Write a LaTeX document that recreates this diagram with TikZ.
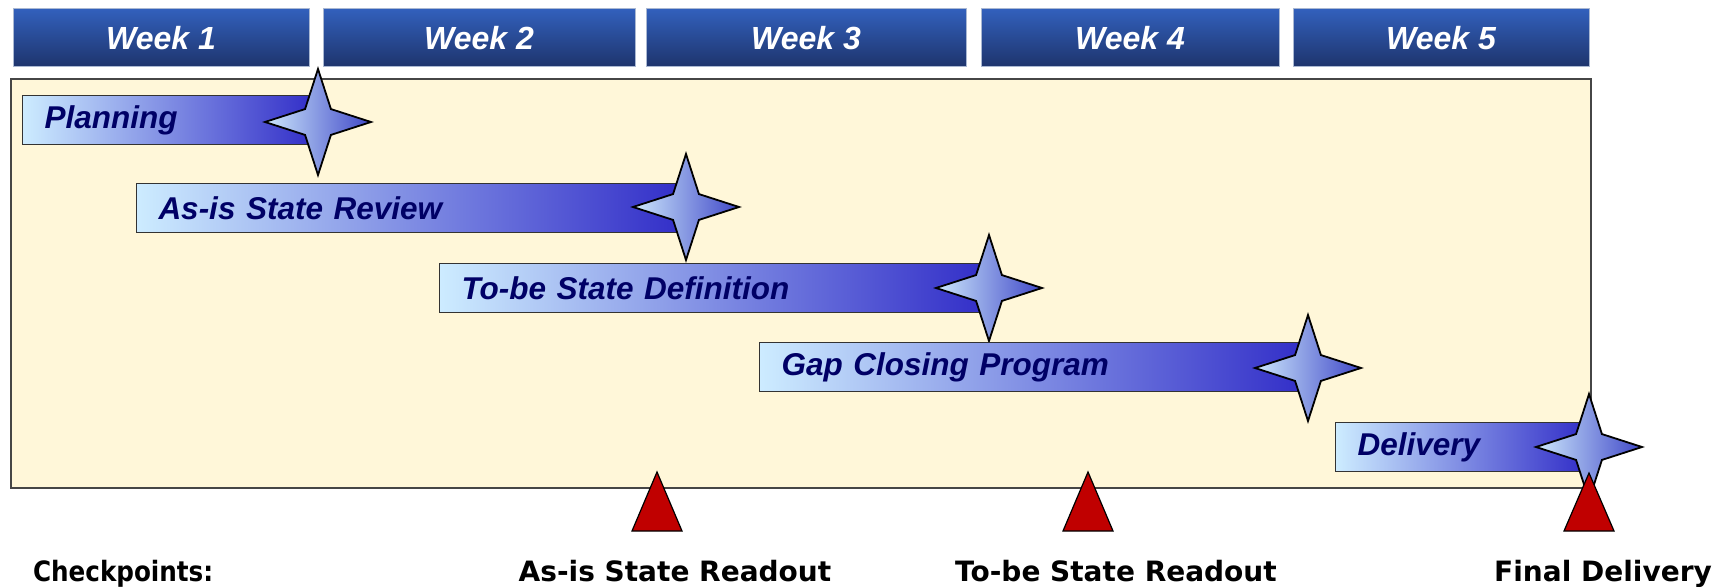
\documentclass[tikz,border=0pt]{standalone}
\usepackage{fontspec}
\setmainfont{Liberation Sans}
\newfontfamily\ckfont{DejaVu Sans}
\newfontfamily\cknarrow[FakeStretch=0.88]{DejaVu Sans}
\usetikzlibrary{shapes.geometric}

\definecolor{weektop}{RGB}{50,96,188}
\definecolor{weekbot}{RGB}{30,52,108}
\definecolor{weekedge}{RGB}{170,184,210}
\definecolor{panelfill}{RGB}{255,247,217}
\definecolor{paneledge}{RGB}{70,70,70}
\definecolor{barlight}{RGB}{205,236,255}
\definecolor{bardark}{RGB}{50,46,200}
\definecolor{barink}{RGB}{0,0,102}
\definecolor{starlight}{RGB}{205,232,252}
\definecolor{stardark}{RGB}{64,72,200}
\definecolor{flagred}{RGB}{192,0,0}

\tikzset{
  week/.style={draw=weekedge, line width=0.5pt, top color=weektop, bottom color=weekbot,
    minimum height=29pt, inner sep=0pt, text=white,
    font=\fontsize{16}{16}\selectfont\bfseries\itshape},
  task/.style={draw=black!80, line width=0.5pt, left color=barlight, right color=bardark,
    anchor=west, minimum height=24.5pt, inner xsep=11pt, inner ysep=0pt, align=left,
    text=barink, font=\fontsize{15.75}{15.75}\selectfont\bfseries\itshape},
  milestone/.style={star, star points=4, star point ratio=2.9, minimum size=53pt,
    inner sep=0pt, draw=black, line width=0.9pt, left color=starlight, right color=stardark},
  flag/.style={draw=black, line width=0.6pt, fill=flagred},
  checkpt/.style={anchor=base, font=\ckfont\fontsize{14}{14}\selectfont\bfseries}
}

\begin{document}
\begin{tikzpicture}[x=0.5pt,y=-0.5pt]
   \useasboundingbox (0,0) rectangle (1729,587);
   \node[week, minimum width=148pt] (w1) at (161,38) {Week 1};
   \node[week, minimum width=156pt] (w2) at (479,38) {Week 2};
   \node[week, minimum width=160pt] (w3) at (806,38) {Week 3};
   \node[week, minimum width=149pt] (w4) at (1130,38) {Week 4};
   \node[week, minimum width=148pt] (w5) at (1441,38) {Week 5};
   \draw[draw=paneledge, fill=panelfill, line width=0.75pt] (11,79) rectangle (1591,488);
   \node[task, text width=123.5pt] (plan) at (22,120.5) {Planning};
   \node[milestone] (s1) at (318,122) {};
   \node[task, text width=251pt] (asis) at (136,208.5) {As-is State Review};
   \node[milestone] (s2) at (686,207) {};
   \node[task, text width=251pt] (tobe) at (439,288) {To-be State Definition};
   \node[milestone] (s3) at (989,288) {};
   \node[task, text width=250.5pt] (gap) at (759,367.5) {Gap Closing Program};
   \node[milestone] (s4) at (1308,368) {};
   \node[task, text width=103pt] (deliv) at (1335,447) {Delivery};
   \node[milestone] (s5) at (1589,447) {};
   \draw[flag] (657,472) -- (682,531) -- (632,531) -- cycle;
   \draw[flag] (1088,472) -- (1113,531) -- (1063,531) -- cycle;
   \draw[flag] (1589,473) -- (1614,531) -- (1564,531) -- cycle;
   \node[checkpt, anchor=base west, font=\cknarrow\fontsize{14}{14}\selectfont\bfseries] (ck) at (26,581) {Checkpoints:};
   \node[checkpt] (r1) at (675,581) {As-is State Readout};
   \node[checkpt] (r2) at (1116,581) {To-be State Readout};
   \node[checkpt] (r3) at (1603,581) {Final Delivery};
\end{tikzpicture}
\end{document}
